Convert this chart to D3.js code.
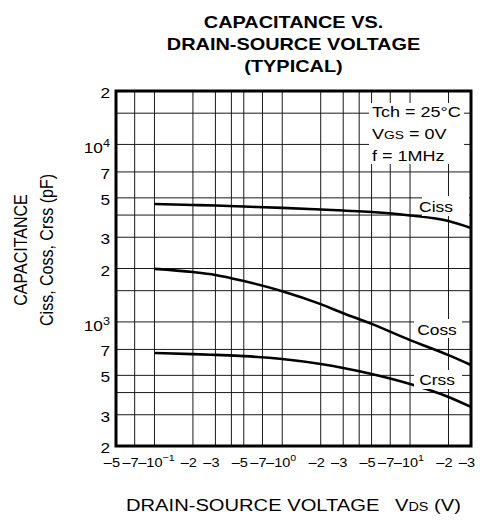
<!DOCTYPE html>
<html><head><meta charset="utf-8">
<script src="https://cdn.jsdelivr.net/npm/d3@7"></script>
<style>
body{margin:0;background:#fff}
svg{display:block}
text{font-family:"Liberation Sans",Arial,Helvetica,sans-serif;fill:#000}
</style>
</head><body>
<svg id="c" width="480" height="520"></svg>
<script>
// ---- data ----
const voltage = [0.1, 0.2, 0.3, 0.5, 1, 2, 3, 5, 10, 20, 30];
const ciss = [4620, 4560, 4530, 4470, 4390, 4300, 4240, 4160, 3980, 3700, 3380];
const coss = [1990, 1910, 1840, 1700, 1490, 1260, 1120, 975, 790, 650, 572];
const crss = [668, 659, 652, 642, 618, 579, 550, 509, 447, 378, 332];
const seriesNames = ["Ciss", "Coss", "Crss"];

const xGrid = [0.07, 0.1, 0.2, 0.3, 0.4, 0.5, 0.7, 1, 2, 3, 4, 5, 7, 10, 20];
const yGrid = [300, 400, 500, 700, 1000, 1500, 2000, 3000, 4000, 5000, 7000, 10000, 15000];

const xTickVals = [0.05, 0.07, 0.1, 0.2, 0.3, 0.5, 0.7, 1, 2, 3, 5, 7, 10, 20, 30];
const xTickMant = ["5", "7", "10", "2", "3", "5", "7", "10", "2", "3", "5", "7", "10", "2", "3"];
const xTickExp  = ["", "", "−1", "", "", "", "", "0", "", "", "", "", "1", "", ""];
const yTickVals = [200, 300, 500, 700, 1000, 2000, 3000, 5000, 7000, 10000, 20000];
const yTickMant = ["2", "3", "5", "7", "10", "2", "3", "5", "7", "10", "2"];
const yTickExp  = ["", "", "", "", "3", "", "", "", "", "4", ""];

const titleLines = ["CAPACITANCE VS.", "DRAIN-SOURCE VOLTAGE", "(TYPICAL)"];

// ---- layout ----
const svg = d3.select("#c");
const L = 116, R = 471, T = 91, B = 446;
const x = d3.scaleLog().domain([0.05, 30]).range([L, R]);
const y = d3.scaleLog().domain([200, 20000]).range([B, T]);

function stext(parent, px, py, sx, size, weight) {
  return parent.append("text")
    .attr("transform", `translate(${px},${py}) scale(${sx},1)`)
    .attr("font-size", size)
    .attr("font-weight", weight || "normal");
}
function measure(str, size) {
  const t = svg.append("text").attr("font-size", size).text(str);
  const w = t.node().getComputedTextLength();
  t.remove();
  return w;
}

// title
titleLines.forEach((s, i) => {
  stext(svg, (L + R) / 2, 28 + i * 22, 1.17, 17, "bold")
    .attr("text-anchor", "middle").text(s);
});

// grid
const g = svg.append("g");
g.selectAll(".vg").data(xGrid).join("line")
  .attr("x1", d => x(d)).attr("x2", d => x(d))
  .attr("y1", T).attr("y2", B)
  .attr("stroke", "#1a1a1a").attr("stroke-width", 1);
g.selectAll(".hg").data(yGrid).join("line")
  .attr("x1", L).attr("x2", R)
  .attr("y1", d => y(d)).attr("y2", d => y(d))
  .attr("stroke", "#1a1a1a").attr("stroke-width", 1);

// curves
const line = d3.line().x(d => x(d[0])).y(d => y(d[1])).curve(d3.curveMonotoneX);
[ciss, coss, crss].forEach(arr => {
  svg.append("path")
    .attr("d", line(voltage.map((v, i) => [v, arr[i]])))
    .attr("fill", "none").attr("stroke", "#000").attr("stroke-width", 2.6);
});

// legend block
svg.append("rect").attr("x", 369).attr("y", 103).attr("width", 95).attr("height", 61).attr("fill", "#fff");
stext(svg, 372, 117, 1.2, 15).text("Tch = 25°C");
const vgs = stext(svg, 372, 139, 1.2, 15);
vgs.append("tspan").text("V");
vgs.append("tspan").attr("font-size", 11.5).text("GS");
vgs.append("tspan").text(" = 0V");
stext(svg, 372, 161, 1.2, 15).text("f = 1MHz");

// curve labels
const labelPos = [
  {bx: 422, by: 196, bw: 47, bh: 20, tx: 436, ty: 212},
  {bx: 414, by: 319, bw: 48, bh: 19, tx: 437, ty: 335},
  {bx: 414, by: 370, bw: 48, bh: 19, tx: 437, ty: 385}
];
seriesNames.forEach((s, i) => {
  const p = labelPos[i];
  svg.append("rect").attr("x", p.bx).attr("y", p.by).attr("width", p.bw).attr("height", p.bh).attr("fill", "#fff");
  stext(svg, p.tx, p.ty, 1.2, 14.5).attr("text-anchor", "middle").text(s);
});

// frame
svg.append("rect").attr("x", L).attr("y", T).attr("width", R - L).attr("height", B - T)
  .attr("fill", "none").attr("stroke", "#000").attr("stroke-width", 3);

// y tick labels
yTickVals.forEach((v, i) => {
  const t = stext(svg, 110, y(v) + 7 + (yTickExp[i] ? 2 : 0), 1.15, 15).attr("text-anchor", "end");
  t.append("tspan").text(yTickMant[i]);
  if (yTickExp[i]) t.append("tspan").attr("font-size", 11).attr("dy", -6).text(yTickExp[i]);
});

// x tick labels
const xs = 13, xsx = 1.12;
xTickVals.forEach((v, i) => {
  const mw = measure(xTickMant[i], xs) * xsx;
  const dw = measure("–", xs) * xsx;
  const t = stext(svg, x(v) - mw / 2 - dw, 467, xsx, xs);
  t.append("tspan").text("–" + xTickMant[i]);
  if (xTickExp[i]) t.append("tspan").attr("font-size", 9.5).attr("dy", -6).text(xTickExp[i]);
});

// x axis title
const xt = stext(svg, 126, 511, 1.2, 16.8);
xt.append("tspan").text("DRAIN-SOURCE VOLTAGE");
xt.append("tspan").attr("dx", 13).text("V");
xt.append("tspan").attr("font-size", 12).text("DS");
xt.append("tspan").text(" (V)");

// y axis title
svg.append("text").attr("transform", "translate(27,250) rotate(-90) scale(1,1.15)")
  .attr("text-anchor", "middle").attr("font-size", 16).text("CAPACITANCE");
svg.append("text").attr("transform", "translate(53,250) rotate(-90) scale(1,1.15)")
  .attr("text-anchor", "middle").attr("font-size", 16).text("Ciss, Coss, Crss (pF)");
</script>
</body></html>
